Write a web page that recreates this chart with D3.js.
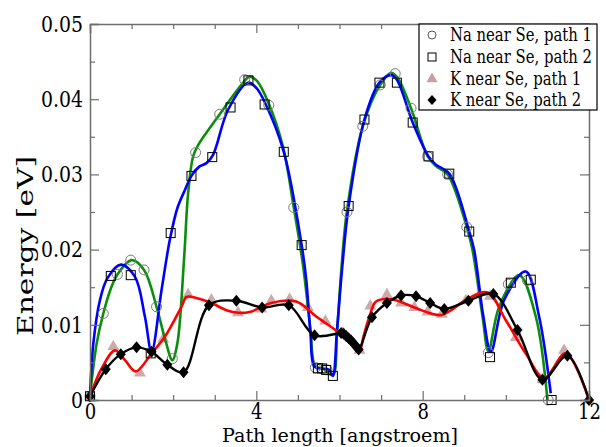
<!DOCTYPE html>
<html><head><meta charset="utf-8">
<script src="https://cdn.jsdelivr.net/npm/d3@7"></script>
<style>html,body{margin:0;padding:0;background:#fff;}svg{display:block;}</style>
</head><body>
<svg id="chart" width="606" height="447" font-family="DejaVu Serif, Liberation Serif, Noto Serif, FreeSerif, Times, serif"></svg>
<script>
// ---- data ----
const xTicks = [0, 4, 8, 12];
const yTicks = [0, 0.01, 0.02, 0.03, 0.04, 0.05];
const yTickLabels = ["0", "0.01", "0.02", "0.03", "0.04", "0.05"];
const legendLabels = ["Na near Se, path 1", "Na near Se, path 2", "K near Se, path 1", "K near Se, path 2"];

// markers
const naPath1X = [0, 0.32, 0.66, 0.98, 1.30, 1.60, 1.98, 2.54, 3.12, 3.72, 4.30, 4.90, 5.42, 5.56, 5.70, 6.18, 6.56, 6.98, 7.34, 7.72, 8.12, 8.60, 9.06, 9.58, 10.06, 10.52, 11.02];
const naPath1E = [0.0005, 0.0115, 0.0167, 0.0186, 0.0173, 0.0124, 0.0055, 0.0329, 0.0380, 0.0426, 0.0392, 0.0256, 0.0043, 0.0042, 0.0040, 0.0250, 0.0364, 0.0419, 0.0434, 0.0388, 0.0324, 0.0300, 0.0230, 0.0063, 0.0154, 0.0159, 0.0000];
const naPath2X = [0, 0.50, 0.98, 1.46, 1.94, 2.44, 2.94, 3.38, 3.81, 4.20, 4.66, 5.09, 5.48, 5.58, 5.68, 5.84, 6.22, 6.60, 6.96, 7.38, 7.76, 8.14, 8.64, 9.12, 9.62, 10.12, 10.60, 11.10];
const naPath2E = [0.0005, 0.0165, 0.0166, 0.0062, 0.0222, 0.0298, 0.0323, 0.0389, 0.0425, 0.0393, 0.0330, 0.0206, 0.0042, 0.0042, 0.0040, 0.0032, 0.0258, 0.0373, 0.0422, 0.0422, 0.0369, 0.0324, 0.0301, 0.0224, 0.0057, 0.0156, 0.0160, 0.0000];
const kPath1X = [0, 0.56, 1.20, 1.76, 2.36, 2.92, 3.56, 4.12, 4.36, 4.80, 5.24, 5.66, 6.08, 6.48, 6.74, 7.14, 7.48, 7.80, 8.12, 8.46, 9.04, 9.62, 10.24, 10.88, 11.40, 12.0];
const kPath1E = [0.0005, 0.0071, 0.0036, 0.0081, 0.0140, 0.0133, 0.0116, 0.0121, 0.0132, 0.0134, 0.0123, 0.0105, 0.0089, 0.0066, 0.0125, 0.0140, 0.0129, 0.0123, 0.0117, 0.0114, 0.0132, 0.0138, 0.0083, 0.0027, 0.0066, 0.0000];
const kPath2X = [0, 0.38, 0.74, 1.12, 1.48, 1.86, 2.25, 2.86, 3.52, 4.14, 4.78, 5.40, 6.04, 6.10, 6.16, 6.22, 6.28, 6.34, 6.40, 6.46, 6.78, 7.14, 7.48, 7.84, 8.18, 8.52, 9.10, 9.70, 10.28, 10.88, 11.48, 12.0];
const kPath2E = [0.0005, 0.0041, 0.0061, 0.0070, 0.0064, 0.0047, 0.0037, 0.0126, 0.0132, 0.0123, 0.0126, 0.0086, 0.0089, 0.0088, 0.0085, 0.0082, 0.0079, 0.0075, 0.0071, 0.0067, 0.0110, 0.0129, 0.0139, 0.0138, 0.0129, 0.0121, 0.0132, 0.0141, 0.0093, 0.0027, 0.0059, 0.0000];

// fitted curves
const naPath1LineX = [0, 0.16, 0.32, 0.50, 0.66, 1.00, 1.30, 1.60, 1.82, 1.98, 2.10, 2.26, 2.36, 2.48, 2.60, 3.12, 3.64, 3.84, 4.02, 4.30, 4.64, 4.90, 5.12, 5.30, 5.42, 5.62, 5.84, 5.94, 6.04, 6.18, 6.56, 6.98, 7.24, 7.40, 7.72, 8.12, 8.32, 8.60, 9.06, 9.20, 9.44, 9.58, 9.84, 10.32, 10.72, 11.00];
const naPath1LineE = [0.0005, 0.0075, 0.0115, 0.0148, 0.0167, 0.0186, 0.0173, 0.0124, 0.0078, 0.0053, 0.0075, 0.0186, 0.0275, 0.0324, 0.0339, 0.0380, 0.0419, 0.0430, 0.0424, 0.0394, 0.0337, 0.0256, 0.0180, 0.0095, 0.0045, 0.0041, 0.0033, 0.0090, 0.0170, 0.0252, 0.0364, 0.0419, 0.0435, 0.0428, 0.0388, 0.0324, 0.0311, 0.0300, 0.0230, 0.0199, 0.0111, 0.0065, 0.0124, 0.0166, 0.0111, 0.0000];
const naPath2LineX = [0, 0.08, 0.24, 0.42, 0.74, 1.08, 1.32, 1.48, 1.72, 1.92, 2.10, 2.28, 2.44, 2.62, 2.80, 2.96, 3.32, 3.80, 4.00, 4.22, 4.66, 5.09, 5.20, 5.30, 5.40, 5.60, 5.76, 5.84, 5.94, 6.06, 6.22, 6.60, 6.96, 7.24, 7.38, 7.76, 8.14, 8.32, 8.64, 9.12, 9.24, 9.46, 9.64, 9.96, 10.48, 10.80, 11.08];
const naPath2LineE = [0.0005, 0.0075, 0.0133, 0.0162, 0.0180, 0.0164, 0.0111, 0.0064, 0.0146, 0.0213, 0.0255, 0.0279, 0.0298, 0.0310, 0.0315, 0.0326, 0.0386, 0.0422, 0.0415, 0.0394, 0.0330, 0.0206, 0.0160, 0.0090, 0.0044, 0.0042, 0.0040, 0.0032, 0.0093, 0.0173, 0.0258, 0.0373, 0.0422, 0.0432, 0.0426, 0.0369, 0.0324, 0.0313, 0.0301, 0.0224, 0.0199, 0.0111, 0.0064, 0.0133, 0.0171, 0.0111, 0.0009];
const kPath1LineX = [0, 0.28, 0.60, 0.84, 1.10, 1.48, 1.80, 2.20, 2.32, 2.60, 2.92, 3.30, 3.56, 3.84, 4.36, 4.96, 5.44, 6.00, 6.30, 6.48, 6.58, 6.72, 6.88, 7.24, 7.80, 8.20, 8.45, 8.70, 9.04, 9.56, 10.00, 10.50, 10.92, 11.44, 12.0];
const kPath1LineE = [0.0005, 0.0042, 0.0066, 0.0053, 0.0038, 0.0062, 0.0084, 0.0124, 0.0137, 0.0135, 0.0129, 0.0119, 0.0116, 0.0117, 0.0129, 0.0131, 0.0111, 0.0089, 0.0074, 0.0066, 0.0085, 0.0111, 0.0131, 0.0134, 0.0123, 0.0115, 0.0113, 0.0120, 0.0133, 0.0143, 0.0106, 0.0060, 0.0029, 0.0062, 0.0000];

// ---- drawing ----
const svg = d3.select("#chart");
const FONT = "DejaVu Serif, Liberation Serif, Noto Serif, FreeSerif, Times, serif";
const x = d3.scaleLinear().domain([0, 12]).range([90, 589]);
const y = d3.scaleLinear().domain([0, 0.05]).range([400, 24]);
const axisColor = "#6e6e6e";

// narrow the wide fallback serif horizontally so it takes Times-like widths
function condense(sel, factor) {
  sel.each(function () {
    const w = this.getComputedTextLength();
    if (w > 0) d3.select(this).attr("textLength", w * factor).attr("lengthAdjust", "spacingAndGlyphs");
  });
}

const zip = (xs, es) => xs.map((v, i) => [v, es[i]]);
const line = d3.line().x(d => x(d[0])).y(d => y(d[1])).curve(d3.curveCatmullRom.alpha(0.5));

const gPlot = svg.append("g");

// triangles (behind lines)
const triSym = d3.symbol().type(d3.symbolTriangle).size(62);
gPlot.append("g").selectAll("path").data(zip(kPath1X, kPath1E)).join("path")
  .attr("d", triSym).attr("transform", d => `translate(${x(d[0])},${y(d[1])})`)
  .attr("fill", "#c9a0a0").attr("fill-opacity", 0.9);

// colored lines
[[naPath1LineX, naPath1LineE, "#0a8f0a"], [naPath2LineX, naPath2LineE, "#0000ff"], [kPath1LineX, kPath1LineE, "#ff0000"]]
  .forEach(([xs, es, c]) => {
    gPlot.append("path").datum(zip(xs, es)).attr("d", line)
      .attr("fill", "none").attr("stroke", c).attr("stroke-width", 2.6).attr("stroke-linejoin", "round");
  });

// circles
gPlot.append("g").selectAll("circle").data(zip(naPath1X, naPath1E)).join("circle")
  .attr("cx", d => x(d[0])).attr("cy", d => y(d[1])).attr("r", 5)
  .attr("fill", "none").attr("stroke", "#7a7a7a").attr("stroke-width", 1);

// squares
gPlot.append("g").selectAll("rect").data(zip(naPath2X, naPath2E)).join("rect")
  .attr("x", d => x(d[0]) - 4.5).attr("y", d => y(d[1]) - 4.5).attr("width", 9).attr("height", 9)
  .attr("fill", "none").attr("stroke", "#000").attr("stroke-width", 1);

// black line + diamonds
const k2 = zip(kPath2X, kPath2E);
gPlot.append("path").datum(k2).attr("d", line)
  .attr("fill", "none").attr("stroke", "#000").attr("stroke-width", 2.4).attr("stroke-linejoin", "round");
const diaPath = "M0,-6L5,0L0,6L-5,0Z";
gPlot.append("g").selectAll("path").data(k2).join("path")
  .attr("d", diaPath).attr("transform", d => `translate(${x(d[0])},${y(d[1])})`).attr("fill", "#000");

// ---- axes (inward ticks, frame) ----
function styleAxis(g, fs) {
  g.attr("font-family", FONT);
  g.select(".domain").attr("stroke", axisColor).attr("stroke-width", 1.5);
  g.selectAll(".tick line").attr("stroke", axisColor).attr("stroke-width", 1.2);
  g.selectAll("text").attr("font-family", FONT).attr("font-size", fs || 23).attr("fill", "#000");
  condense(g.selectAll("text"), 0.82);
}
const minorX = d3.range(0, 13, 1).filter(v => v % 4 !== 0);
const minorY = [0.005, 0.015, 0.025, 0.035, 0.045];

const gx = svg.append("g").attr("transform", "translate(0,400)")
  .call(d3.axisBottom(x).tickValues(xTicks).tickSize(-9).tickPadding(3.5).tickFormat(d3.format("d")));
styleAxis(gx, 22);
const gxm = svg.append("g").attr("transform", "translate(0,400)")
  .call(d3.axisBottom(x).tickValues(minorX).tickSize(-5).tickFormat(""));
styleAxis(gxm); gxm.select(".domain").remove();

const gxt = svg.append("g").attr("transform", "translate(0,24)")
  .call(d3.axisTop(x).tickValues(xTicks).tickSize(-9).tickFormat(""));
styleAxis(gxt);
const gxtm = svg.append("g").attr("transform", "translate(0,24)")
  .call(d3.axisTop(x).tickValues(minorX).tickSize(-5).tickFormat(""));
styleAxis(gxtm); gxtm.select(".domain").remove();

const gy = svg.append("g").attr("transform", "translate(90,0)")
  .call(d3.axisLeft(y).tickValues(yTicks).tickSize(-9).tickPadding(7).tickFormat((d, i) => yTickLabels[i]));
styleAxis(gy);
const gym = svg.append("g").attr("transform", "translate(90,0)")
  .call(d3.axisLeft(y).tickValues(minorY).tickSize(-5).tickFormat(""));
styleAxis(gym); gym.select(".domain").remove();

const gyr = svg.append("g").attr("transform", "translate(589,0)")
  .call(d3.axisRight(y).tickValues(yTicks).tickSize(-9).tickFormat(""));
styleAxis(gyr);
const gyrm = svg.append("g").attr("transform", "translate(589,0)")
  .call(d3.axisRight(y).tickValues(minorY).tickSize(-5).tickFormat(""));
styleAxis(gyrm); gyrm.select(".domain").remove();

// axis titles
svg.append("text").attr("x", 340).attr("y", 442).attr("text-anchor", "middle")
  .attr("font-family", FONT).attr("font-size", 19).attr("textLength", 236).attr("lengthAdjust", "spacingAndGlyphs")
  .text("Path length [angstroem]");
svg.append("text").attr("transform", "translate(33,246) rotate(-90)").attr("text-anchor", "middle")
  .attr("font-family", FONT).attr("font-size", 22).attr("textLength", 180).attr("lengthAdjust", "spacingAndGlyphs")
  .text("Energy [eV]");

// ---- legend ----
const lg = svg.append("g");
lg.append("rect").attr("x", 419).attr("y", 24).attr("width", 178).attr("height", 86)
  .attr("fill", "#fff").attr("stroke", "#000").attr("stroke-width", 1.2);
const rowsY = [35, 57, 79, 100];
const legRows = lg.selectAll("g.leg").data(legendLabels).join("g").attr("class", "leg");
const legTexts = legRows.append("text").attr("x", 0).attr("y", 0).attr("dy", "0.36em")
  .attr("font-family", FONT).attr("font-size", 18).text(d => d);
const w0 = legTexts.node().getComputedTextLength();
const sx = 142 / w0;
legRows.attr("transform", (d, i) => `translate(450,${rowsY[i]}) scale(${sx},1)`);
lg.append("circle").attr("cx", 432).attr("cy", rowsY[0]).attr("r", 4).attr("fill", "none").attr("stroke", "#555");
lg.append("rect").attr("x", 428).attr("y", rowsY[1] - 4).attr("width", 8).attr("height", 8).attr("fill", "none").attr("stroke", "#000");
lg.append("path").attr("d", d3.symbol().type(d3.symbolTriangle).size(55)).attr("transform", `translate(432,${rowsY[2]})`).attr("fill", "#c9a0a0");
lg.append("path").attr("d", "M0,-5L4.5,0L0,5L-4.5,0Z").attr("transform", `translate(432,${rowsY[3]})`).attr("fill", "#000");
</script>
</body></html>
